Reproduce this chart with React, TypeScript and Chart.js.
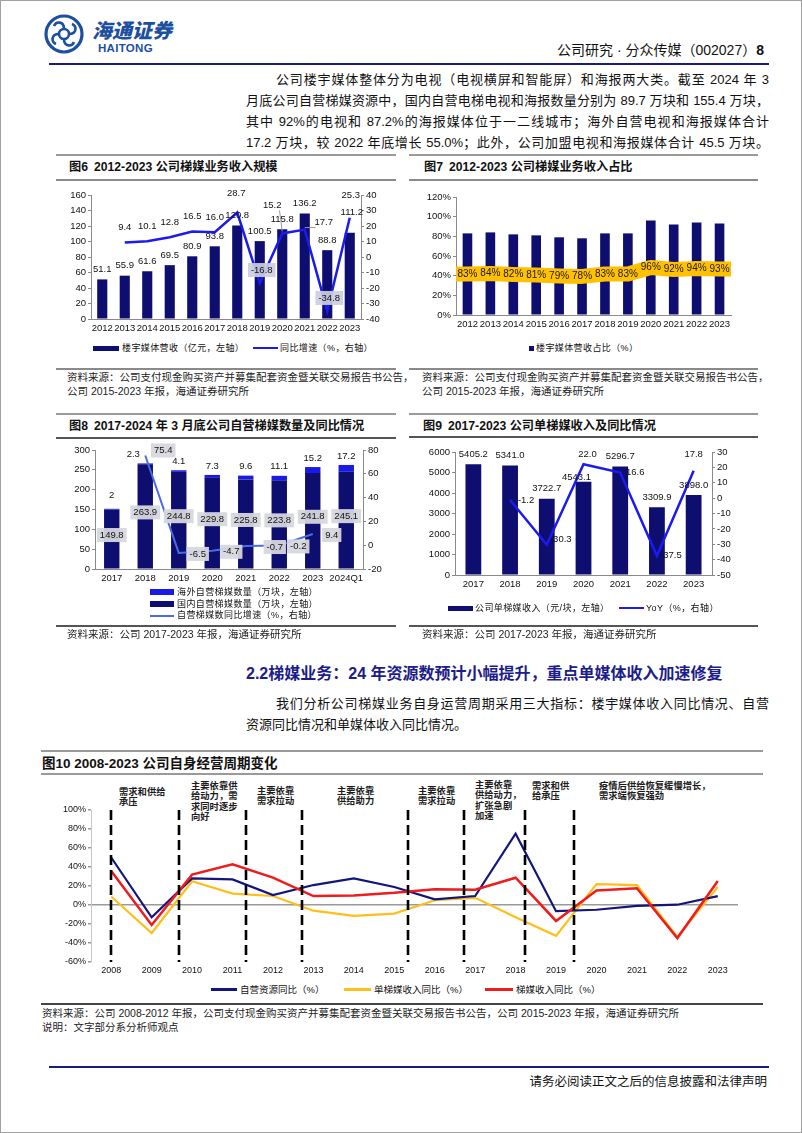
import React, { useEffect, useRef } from "react";
import { Chart, registerables } from "chart.js";
Chart.register(...registerables);

// ---------------- data ----------------
const years6 = ["2012", "2013", "2014", "2015", "2016", "2017", "2018", "2019", "2020", "2021", "2022", "2023"];
const revenue6 = [51.1, 55.9, 61.6, 69.5, 80.9, 93.8, 120.8, 100.5, 115.8, 136.2, 88.8, 111.2];
const revenueYoY6 = [null, 9.4, 10.1, 12.8, 16.5, 16.0, 28.7, -16.8, 15.2, 17.7, -34.8, 25.3];

const years7 = years6;
const share7 = [83, 84, 82, 81, 79, 78, 83, 83, 96, 92, 94, 93];

const years8 = ["2017", "2018", "2019", "2020", "2021", "2022", "2023", "2024Q1"];
const domestic8 = [149.8, 263.9, 244.8, 229.8, 225.8, 223.8, 241.8, 245.1];
const overseas8 = [2, 2.3, 4.1, 7.3, 9.6, 11.1, 15.2, 17.2];
const countYoY8 = [null, 75.4, -6.5, -4.7, -0.7, -0.2, 9.4, null];

const years9 = ["2017", "2018", "2019", "2020", "2021", "2022", "2023"];
const unitRevenue9 = [5405.2, 5341.0, 3722.7, 4543.1, 5296.7, 3309.9, 3898.0];
const unitYoY9 = [null, -1.2, -30.3, 22.0, 16.6, -37.5, 17.8];

const years10 = [2008, 2009, 2010, 2011, 2012, 2013, 2014, 2015, 2016, 2017, 2018, 2019, 2020, 2021, 2022, 2023];
const resourceYoY10 = [50, -13, 28, 27, 10.5, 21, 28, 19, 6, 9.5, 75, -6.5, -5, -1, 0.3, 9.4];
const unitYoY10 = [9, -29.5, 25, 12, 9.5, -6, -11.5, -9, 5, 7.5, -13, -32.5, 22, 21, -33.5, 19];
const revenueYoY10 = [35.8, -21, 32, 42.8, 28.8, 9.4, 10.1, 12.8, 16.5, 16.0, 28.7, -16.8, 15.2, 17.7, -34.8, 25.3];
const dividerYears10 = [2008, 2009.67, 2011.33, 2012.73, 2015.33, 2016.73, 2018.24, 2019.44];

// ---------------- styles ----------------
const NUM = '"Liberation Sans", Arial, "Noto Sans CJK SC", sans-serif';
const MIX = '"Liberation Sans", "Noto Sans CJK SC", sans-serif';
const NAVY = "#0e0e70";
const BRIGHT = "#1b1bf0";
const AXIS = "#8a8a8a";

const makeLabelPlugin = (items: any[]) => ({
  id: "dlabels",
  afterDatasetsDraw(chart: any) {
    const ctx = chart.ctx;
    items.forEach((item: any) => {
      const meta = chart.getDatasetMeta(item.ds);
      const data = chart.data.datasets[item.ds].data;
      meta.data.forEach((el: any, i: number) => {
        const v = data[i];
        if (v == null) return;
        const base = item.pos(el, i);
        const n = (item.nudge && item.nudge[i]) || [0, 0];
        const x = base.x + n[0];
        const y = base.y + n[1];
        const text = item.fmt ? item.fmt(v) : String(v);
        ctx.save();
        ctx.font = item.font;
        ctx.textAlign = "center";
        ctx.textBaseline = "middle";
        const w = ctx.measureText(text).width;
        if (item.leader && item.leader.includes(i)) {
          ctx.strokeStyle = "#9a9a9a";
          ctx.lineWidth = 1;
          ctx.beginPath();
          const lx = x < el.x ? x + w / 2 - 2 : x - w / 2 + 1;
          ctx.moveTo(lx, y + 5);
          ctx.lineTo(el.x, el.y - 2);
          ctx.stroke();
        }
        const bg = typeof item.bg === "function" ? item.bg(i, v) : item.bg;
        if (bg) {
          ctx.fillStyle = bg;
          ctx.fillRect(x - w / 2 - 3, y - 7, w + 6, 14);
        }
        ctx.fillStyle = item.color || "#111";
        ctx.fillText(text, x, y);
        ctx.restore();
      });
    });
  },
});

const plain = (v: number) => String(v);

const yAxis = (pos: string, min: number, max: number, step: number, w: number, size: number, cb?: any, extra?: any) => ({
  position: pos,
  min,
  max,
  ticks: { stepSize: step, color: "#111", font: { family: NUM, size }, padding: 2, callback: cb || plain },
  grid: { display: true, drawOnChartArea: false, drawTicks: true, tickLength: 3, color: AXIS },
  border: { display: true, color: AXIS, width: 1 },
  afterFit: (s: any) => {
    s.width = w;
  },
  ...(extra || {}),
});

const xCat = (h: number, size: number, extra?: any) => ({
  ticks: { color: "#111", font: { family: NUM, size }, padding: 4, maxRotation: 0, autoSkip: false },
  grid: { display: false, drawTicks: false },
  border: { display: true, color: AXIS, width: 1 },
  afterFit: (s: any) => {
    s.height = h;
  },
  ...(extra || {}),
});

const baseOpts = (padTop: number, padRight: number, padLeft = 0) => ({
  responsive: false,
  maintainAspectRatio: false,
  animation: false,
  devicePixelRatio: 1,
  layout: { padding: { top: padTop, right: padRight, left: padLeft, bottom: 0 } },
  events: [],
});

// ---------------- chart configs ----------------
const make6 = () => ({
  type: "bar",
  data: {
    labels: years6,
    datasets: [
      { type: "line", data: revenueYoY6, yAxisID: "y1", borderColor: BRIGHT, borderWidth: 2.5, pointRadius: 0, tension: 0, order: 0 },
      { type: "bar", data: revenue6, yAxisID: "y", backgroundColor: NAVY, barPercentage: 0.45, categoryPercentage: 1, order: 1 },
    ],
  },
  options: {
    ...baseOpts(14, 0),
    plugins: { legend: { display: false }, tooltip: { enabled: false } },
    scales: {
      x: xCat(20, 9.5),
      y: yAxis("left", 0, 160, 20, 40, 9.5),
      y1: yAxis("right", -40, 40, 10, 38, 9.5),
    },
  },
  plugins: [
    makeLabelPlugin([
      {
        ds: 1,
        font: `9.5px ${NUM}`,
        pos: (el: any) => ({ x: el.x, y: el.y - 10 }),
        nudge: { 11: [2, -10] },
        fmt: (v: number) => v.toFixed(1),
      },
      {
        ds: 0,
        font: `9.5px ${NUM}`,
        pos: (el: any) => ({ x: el.x, y: el.y - 15 }),
        nudge: { 6: [-1, -4], 8: [-10, -13], 9: [19, 8], 11: [1, -7], 7: [2, 2], 10: [2, 2] },
        leader: [8, 9],
        bg: (i: number) => (i === 7 || i === 10 ? "rgba(205,205,225,0.92)" : null),
        fmt: (v: number) => v.toFixed(1),
      },
    ]),
  ],
});

const bandPlugin = {
  id: "band",
  afterDatasetsDraw(chart: any) {
    const meta = chart.getDatasetMeta(0);
    const { ctx, chartArea } = chart;
    const pts = meta.data.map((el: any) => ({ x: el.x, y: (el.y + el.base) / 2 }));
    ctx.save();
    ctx.strokeStyle = "#ffc000";
    ctx.lineWidth = 15;
    ctx.lineJoin = "round";
    ctx.beginPath();
    ctx.moveTo(chartArea.left, pts[0].y);
    pts.forEach((p: any) => ctx.lineTo(p.x, p.y));
    ctx.lineTo(chartArea.right, pts[pts.length - 1].y);
    ctx.stroke();
    ctx.font = `10px ${NUM}`;
    ctx.fillStyle = "#1a1a1a";
    ctx.textAlign = "center";
    ctx.textBaseline = "middle";
    pts.forEach((p: any, i: number) => ctx.fillText(share7[i] + "%", p.x, p.y));
    ctx.restore();
  },
};

const make7 = () => ({
  type: "bar",
  data: {
    labels: years7,
    datasets: [{ data: share7, backgroundColor: NAVY, barPercentage: 0.42, categoryPercentage: 1 }],
  },
  options: {
    ...baseOpts(16, 27),
    plugins: { legend: { display: false }, tooltip: { enabled: false } },
    scales: {
      x: xCat(20, 9.5),
      y: yAxis("left", 0, 120, 20, 50, 9.5, (v: number) => v + "%"),
    },
  },
  plugins: [bandPlugin],
});

const make8 = () => ({
  type: "bar",
  data: {
    labels: years8,
    datasets: [
      { type: "line", data: countYoY8, yAxisID: "y1", borderColor: "#4a6ae6", borderWidth: 2, pointRadius: 0, tension: 0, order: 0 },
      { type: "bar", data: domestic8, yAxisID: "y", backgroundColor: NAVY, barPercentage: 0.46, categoryPercentage: 1, stack: "s", order: 1 },
      { type: "bar", data: overseas8, yAxisID: "y", backgroundColor: "#1a1ae8", barPercentage: 0.46, categoryPercentage: 1, stack: "s", order: 1 },
    ],
  },
  options: {
    ...baseOpts(9, 0),
    plugins: { legend: { display: false }, tooltip: { enabled: false } },
    scales: {
      x: xCat(20, 9.5, { stacked: true }),
      y: yAxis("left", 0, 300, 50, 44, 9.5, undefined, { stacked: true }),
      y1: yAxis("right", -20, 80, 20, 36, 9.5),
    },
  },
  plugins: [
    makeLabelPlugin([
      {
        ds: 1,
        font: `9.5px ${NUM}`,
        pos: (el: any) => ({ x: el.x, y: (el.y + el.base) / 2 - 4 }),
        bg: "rgba(215,215,222,0.95)",
        fmt: (v: number) => v.toFixed(1),
      },
      {
        ds: 2,
        font: `9.5px ${NUM}`,
        pos: (el: any) => ({ x: el.x, y: el.y - 9 }),
        nudge: { 0: [0, -4], 1: [-12, 0] },
        fmt: (v: number) => String(v),
      },
      {
        ds: 0,
        font: `9.5px ${NUM}`,
        pos: (el: any) => ({ x: el.x + 19, y: el.y + 1 }),
        nudge: { 1: [-1, -6], 4: [10, 0] },
        bg: "rgba(215,215,222,0.95)",
        fmt: (v: number) => v.toFixed(1),
      },
    ]),
  ],
});

const make9 = () => ({
  type: "bar",
  data: {
    labels: years9,
    datasets: [
      { type: "line", data: unitYoY9, yAxisID: "y1", borderColor: BRIGHT, borderWidth: 2.5, pointRadius: 0, tension: 0, order: 0 },
      { type: "bar", data: unitRevenue9, yAxisID: "y", backgroundColor: NAVY, barPercentage: 0.43, categoryPercentage: 1, order: 1 },
    ],
  },
  options: {
    ...baseOpts(11, 0),
    plugins: { legend: { display: false }, tooltip: { enabled: false } },
    scales: {
      x: xCat(22, 9.5),
      y: yAxis("left", 0, 6000, 1000, 49, 9.5),
      y1: yAxis("right", -50, 30, 10, 46, 9.5),
    },
  },
  plugins: [
    makeLabelPlugin([
      {
        ds: 1,
        font: `9.5px ${NUM}`,
        pos: (el: any) => ({ x: el.x, y: el.y - 10 }),
        nudge: { 3: [-7, 6] },
        fmt: (v: number) => v.toFixed(1),
      },
      {
        ds: 0,
        font: `9.5px ${NUM}`,
        pos: (el: any) => ({ x: el.x, y: el.y }),
        nudge: { 1: [16, 0], 2: [14, -5], 3: [4, -10], 4: [15, 0], 5: [14, 0], 6: [0, -16] },
        fmt: (v: number) => v.toFixed(1),
      },
    ]),
  ],
});

const dividerPlugin = {
  id: "dividers",
  afterDatasetsDraw(chart: any) {
    const { ctx, chartArea, scales } = chart;
    ctx.save();
    ctx.strokeStyle = "#000";
    ctx.lineWidth = 2.6;
    ctx.setLineDash([10, 5]);
    dividerYears10.forEach((v) => {
      const px = Math.round(scales.x.getPixelForValue(v));
      ctx.beginPath();
      ctx.moveTo(px, chartArea.top);
      ctx.lineTo(px, chartArea.bottom);
      ctx.stroke();
    });
    ctx.restore();
  },
};

const make10 = () => ({
  type: "line",
  data: {
    datasets: [
      { data: years10.map((x, i) => ({ x, y: revenueYoY10[i] })), borderColor: "#ee1c1c", borderWidth: 2.5, pointRadius: 0, tension: 0, order: 0 },
      { data: years10.map((x, i) => ({ x, y: resourceYoY10[i] })), borderColor: "#14147e", borderWidth: 2.2, pointRadius: 0, tension: 0, order: 1 },
      { data: years10.map((x, i) => ({ x, y: unitYoY10[i] })), borderColor: "#ffbf1a", borderWidth: 2.2, pointRadius: 0, tension: 0, order: 2 },
    ],
  },
  options: {
    ...baseOpts(9, 25),
    plugins: { legend: { display: false }, tooltip: { enabled: false } },
    scales: {
      x: {
        type: "linear",
        min: 2007.5,
        max: 2023.5,
        afterBuildTicks: (s: any) => {
          s.ticks = years10.map((v) => ({ value: v }));
        },
        ticks: { color: "#111", font: { family: NUM, size: 9 }, padding: 3, maxRotation: 0, autoSkip: false, callback: (v: number) => String(v) },
        grid: { display: false, drawTicks: false },
        border: { display: false },
        afterFit: (s: any) => {
          s.height = 18;
        },
      },
      y: {
        min: -60,
        max: 100,
        ticks: { stepSize: 20, color: "#111", font: { family: NUM, size: 9 }, padding: 2, callback: (v: number) => v + "%" },
        grid: {
          display: true,
          drawTicks: true,
          tickLength: 3,
          color: (c: any) => (c.tick && c.tick.value === 0 ? "#9a9a9a" : "rgba(0,0,0,0)"),
          tickColor: "#9a9a9a",
          lineWidth: 1.5,
        },
        border: { display: true, color: "#c8c8c8", width: 1 },
        afterFit: (s: any) => {
          s.width = 50;
        },
      },
    },
  },
  plugins: [dividerPlugin],
});

// ---------------- components ----------------
function ChartCanvas({ x, y, w, h, make }: { x: number; y: number; w: number; h: number; make: () => any }) {
  const ref = useRef<HTMLCanvasElement>(null);
  useEffect(() => {
    let chart: any = null;
    try {
      chart = new Chart(ref.current as HTMLCanvasElement, make());
    } catch (e) {
      console.error(e);
    }
    return () => {
      if (chart) chart.destroy();
    };
  }, []);
  return <canvas ref={ref} width={w} height={h} style={{ position: "absolute", left: x, top: y, width: w, height: h }} />;
}

const T = ({ x, y, size, children, style, right }: any) => (
  <div
    style={{
      position: "absolute",
      ...(right != null ? { right: 802 - right } : { left: x }),
      top: y - size * 0.68,
      fontSize: size,
      lineHeight: `${Math.round(size * 1.36)}px`,
      whiteSpace: "nowrap",
      fontFamily: MIX,
      color: "#111",
      ...(style || {}),
    }}
  >
    {children}
  </div>
);

const Line = ({ x1, x2, y, h = 1, color = "#999" }: any) => (
  <div style={{ position: "absolute", left: x1, top: y - h / 2, width: x2 - x1, height: h, background: color }} />
);

const Box = ({ x, y, w, h, color }: any) => (
  <div style={{ position: "absolute", left: x, top: y - h / 2, width: w, height: h, background: color }} />
);

const JLine = ({ x, y, w, size, children, last }: any) => (
  <div
    style={{
      position: "absolute",
      left: x,
      top: y - size * 0.75,
      width: w,
      fontSize: size,
      lineHeight: `${size * 1.5}px`,
      fontFamily: MIX,
      color: "#111",
      textAlign: last ? "left" : "justify",
      textAlignLast: last ? "left" : "justify",
    } as any}
  >
    {children}
  </div>
);

const Title = ({ x, y, num, text }: any) => (
  <>
    <T x={x} y={y} size={12.2} style={{ fontWeight: 700 }}>
      {num}
    </T>
    <T x={x + 25} y={y} size={12.2} style={{ fontWeight: 700 }}>
      {text}
    </T>
  </>
);

const annotations10 = [
  { x: 118, y: 791, lines: ["需求和供给", "承压"] },
  { x: 190, y: 785, lines: ["主要依靠供", "给动力，需", "求同时逐步", "向好"] },
  { x: 256, y: 790, lines: ["主要依靠", "需求拉动"] },
  { x: 336, y: 790, lines: ["主要依靠", "供给助力"] },
  { x: 417, y: 790, lines: ["主要依靠", "需求拉动"] },
  { x: 474, y: 784, lines: ["主要依靠", "供给动力，", "扩张急剧", "加速"] },
  { x: 531, y: 785, lines: ["需求和供", "给承压"] },
  { x: 598, y: 785, lines: ["疫情后供给恢复缓慢增长，", "需求端恢复强劲"] },
];

function Logo() {
  return (
    <svg width={42} height={42} style={{ position: "absolute", left: 42, top: 12 }} viewBox="0 0 42 42">
      <circle cx={21} cy={21} r={18} fill="none" stroke="#1d4fa0" strokeWidth={3.2} />
      <circle cx={21} cy={21} r={5} fill="none" stroke="#1d4fa0" strokeWidth={2.6} />
      <path d="M21 16 C 21 8, 13 8, 11 13 M26 21 C 34 21, 34 13, 29 11 M21 26 C 21 34, 29 34, 31 29 M16 21 C 8 21, 8 29, 13 31" fill="none" stroke="#1d4fa0" strokeWidth={2.6} />
    </svg>
  );
}

export default function App() {
  useEffect(() => {
    document.body.style.margin = "0";
  }, []);
  const src = { fontSize: 10.5, color: "#222" };
  return (
    <div style={{ position: "relative", width: 802, height: 1133, background: "#fff", overflow: "hidden", boxSizing: "border-box", border: "1px solid #a0a0a0" }}>
      <Logo />
      <T x={91} y={31} size={20} style={{ fontWeight: 900, color: "#1d4fa0", fontStyle: "italic", letterSpacing: 0 }}>
        海通证券
      </T>
      <T x={97} y={47} size={11.5} style={{ fontWeight: 700, color: "#1d4fa0", letterSpacing: 0.3 }}>
        HAITONG
      </T>
      <T right={765} y={50} size={14}>
        公司研究 · 分众传媒（002027）<b>8</b>
      </T>
      <Line x1={48} x2={768} y={63} h={2.5} color="#1c1c80" />

      <JLine x={275} y={79} w={493} size={13}>公司楼宇媒体整体分为电视（电视横屏和智能屏）和海报两大类。截至 2024 年 3</JLine>
      <JLine x={245} y={100} w={523} size={13}>月底公司自营梯媒资源中，国内自营电梯电视和海报数量分别为 89.7 万块和 155.4 万块，</JLine>
      <JLine x={245} y={121} w={523} size={13}>其中 92%的电视和 87.2%的海报媒体位于一二线城市；海外自营电视和海报媒体合计</JLine>
      <JLine x={245} y={142} w={523} size={13}>17.2 万块，较 2022 年底增长 55.0%；此外，公司加盟电视和海报媒体合计 45.5 万块。</JLine>

      {/* chart 6 */}
      <Line x1={55} x2={395} y={154} h={1.5} color="#9a9a9a" />
      <Title x={68} y={166.5} num="图6" text="2012-2023 公司梯媒业务收入规模" />
      <Line x1={55} x2={395} y={179} h={1.5} color="#8a8a8a" />
      <ChartCanvas x={50} y={180} w={348} h={158} make={make6} />
      <Box x={92} y={347} w={26} h={5} color={NAVY} />
      <T x={121} y={347} size={9} style={{ letterSpacing: 0.4 }}>楼宇媒体营收（亿元，左轴）</T>
      <Box x={252} y={347} w={25} h={2.5} color={BRIGHT} />
      <T x={279} y={347} size={9} style={{ letterSpacing: 0.4 }}>同比增速（%，右轴）</T>
      <Line x1={55} x2={395} y={368} h={1.5} color="#8a8a8a" />
      <T x={66} y={376} size={10.5} style={src}>资料来源：公司支付现金购买资产并募集配套资金暨关联交易报告书公告，</T>
      <T x={66} y={390} size={10.5} style={src}>公司 2015-2023 年报，海通证券研究所</T>

      {/* chart 7 */}
      <Line x1={408} x2={757} y={154} h={1.5} color="#9a9a9a" />
      <Title x={423} y={166.5} num="图7" text="2012-2023 公司梯媒业务收入占比" />
      <Line x1={408} x2={757} y={179} h={1.5} color="#8a8a8a" />
      <ChartCanvas x={405} y={180} w={352} h={154} make={make7} />
      <Box x={528} y={347} w={5} h={5} color={NAVY} />
      <T x={535} y={347} size={9} style={{ letterSpacing: 0.4 }}>楼宇媒体营收占比（%）</T>
      <Line x1={408} x2={757} y={368} h={1.5} color="#8a8a8a" />
      <T x={421} y={376} size={10.5} style={src}>资料来源：公司支付现金购买资产并募集配套资金暨关联交易报告书公告，</T>
      <T x={421} y={390} size={10.5} style={src}>公司 2015-2023 年报，海通证券研究所</T>

      {/* chart 8 */}
      <Line x1={55} x2={395} y={413} h={1.5} color="#9a9a9a" />
      <Title x={68} y={425} num="图8" text="2017-2024 年 3 月底公司自营梯媒数量及同比情况" />
      <Line x1={55} x2={395} y={437} h={1.5} color="#555" />
      <ChartCanvas x={50} y={440} w={348} h={148} make={make8} />
      <Box x={149} y={591} w={24} h={6} color="#1a1ae8" />
      <T x={176} y={591} size={9} style={{ letterSpacing: 0.4 }}>海外自营梯媒数量（万块，左轴）</T>
      <Box x={149} y={603} w={24} h={6} color={NAVY} />
      <T x={176} y={603} size={9} style={{ letterSpacing: 0.4 }}>国内自营梯媒数量（万块，左轴）</T>
      <Box x={149} y={614.5} w={24} h={2} color="#4a6ae6" />
      <T x={176} y={614.5} size={9} style={{ letterSpacing: 0.4 }}>自营梯媒数同比增速（%，右轴）</T>
      <Line x1={55} x2={395} y={625} h={1.5} color="#555" />
      <T x={66} y={633} size={10.5} style={src}>资料来源：公司 2017-2023 年报，海通证券研究所</T>

      {/* chart 9 */}
      <Line x1={408} x2={757} y={413} h={1.5} color="#9a9a9a" />
      <Title x={422} y={425} num="图9" text="2017-2023 公司单梯媒收入及同比情况" />
      <Line x1={408} x2={757} y={436} h={1.5} color="#555" />
      <ChartCanvas x={405} y={440} w={352} h={156} make={make9} />
      <Box x={447} y={607} w={25} h={5} color={NAVY} />
      <T x={474} y={607} size={9} style={{ letterSpacing: 0.4 }}>公司单梯媒收入（元/块，左轴）</T>
      <Box x={618} y={607} w={25} h={2.5} color={BRIGHT} />
      <T x={645} y={607} size={9} style={{ letterSpacing: 0.4 }}>YoY（%，右轴）</T>
      <Line x1={408} x2={757} y={625} h={1.5} color="#555" />
      <T x={421} y={633} size={10.5} style={src}>资料来源：公司 2017-2023 年报，海通证券研究所</T>

      {/* section */}
      <T x={245} y={673} size={16} style={{ fontWeight: 700, color: "#1c1c8a" }}>
        2.2梯媒业务：24 年资源数预计小幅提升，重点单媒体收入加速修复
      </T>
      <JLine x={275} y={703} w={493} size={13}>我们分析公司梯媒业务自身运营周期采用三大指标：楼宇媒体收入同比情况、自营</JLine>
      <JLine x={245} y={724} w={523} size={13} last>资源同比情况和单媒体收入同比情况。</JLine>

      {/* chart 10 */}
      <Line x1={40} x2={762} y={750} h={1.5} color="#9a9a9a" />
      <T x={41} y={763} size={13.5} style={{ fontWeight: 700 }}>图10 2008-2023 公司自身经营周期变化</T>
      <Line x1={40} x2={762} y={773} h={1.5} color="#9a9a9a" />
      {annotations10.map((a, k) =>
        a.lines.map((t, j) => (
          <T key={k + "-" + j} x={a.x} y={a.y + j * 10.5} size={9.3} style={{ fontWeight: 600, color: "#1a1a1a" }}>
            {t}
          </T>
        ))
      )}
      <ChartCanvas x={40} y={800} w={722} h={179} make={make10} />
      <Box x={210} y={988} w={26} h={3} color="#14147e" />
      <T x={239} y={988} size={9.5}>自营资源同比（%）</T>
      <Box x={343} y={988} w={27} h={3} color="#ffbf1a" />
      <T x={373} y={988} size={9.5}>单梯媒收入同比（%）</T>
      <Box x={484} y={988} w={28} h={3} color="#ee1c1c" />
      <T x={515} y={988} size={9.5}>梯媒收入同比（%）</T>
      <Line x1={40} x2={762} y={1003} h={1.5} color="#444" />
      <T x={41} y={1012} size={10.5} style={src}>
        资料来源：公司 2008-2012 年报，公司支付现金购买资产并募集配套资金暨关联交易报告书公告，公司 2015-2023 年报，海通证券研究所
      </T>
      <T x={41} y={1026} size={10.5} style={src}>说明：文字部分系分析师观点</T>

      <Line x1={48} x2={768} y={1066} h={2.5} color="#1c1c80" />
      <T right={768} y={1081} size={12.5}>请务必阅读正文之后的信息披露和法律声明</T>
    </div>
  );
}
